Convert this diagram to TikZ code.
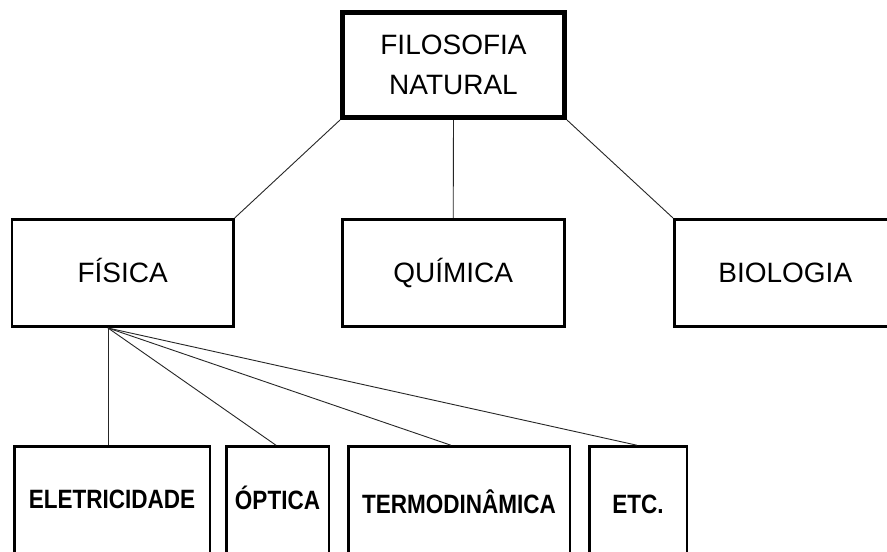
\documentclass[tikz,border=0pt]{standalone}
\usepackage{fontspec}
\setmainfont{Liberation Sans}
\newfontfamily\narrowbold[FakeStretch=0.85]{Liberation Sans Bold}
\begin{document}
\begin{tikzpicture}[x=1pt,y=-1pt,
  box/.style={draw=black, rectangle, inner sep=0pt, line width=2.5pt},
  link/.style={line width=0.9pt, draw=black!85},
  toptext/.style={font=\fontsize{28}{40}\selectfont, align=center},
  midtext/.style={font=\fontsize{28}{34}\selectfont, text height=20pt, text depth=0pt},
  bottext/.style={font=\narrowbold\fontsize{26.5}{30}\selectfont, anchor=north, text depth=70pt}]
\clip (0,0) rectangle (887,552);
\fill[white] (0,0) rectangle (887,552);

% top
\node[box, line width=5pt, minimum width=222pt, minimum height=105.5pt, toptext] (top) at (453.5,64.75) {FILOSOFIA\\NATURAL};

% middle row
\node[box, minimum width=221.4pt, minimum height=107pt, midtext] (fis) at (122.7,272.75) {FÍSICA};
\node[box, line width=3pt, minimum width=222.4pt, minimum height=107pt, midtext] (qui) at (453.2,272.75) {QUÍMICA};
\node[box, minimum width=222pt, minimum height=107pt, midtext] (bio) at (785.25,272.75) {BIOLOGIA};

% bottom row
\node[box, minimum width=195.5pt, text height=61.75pt, bottext] (ele) at (112,445.25) {ELETRICIDADE};
\node[box, minimum width=102.5pt, text height=62.75pt, bottext] (opt) at (277.5,445.25) {ÓPTICA};
\node[box, minimum width=221.5pt, text height=66.75pt, bottext] (ter) at (459,445.25) {TERMODINÂMICA};
\node[box, minimum width=97.5pt, text height=66.75pt, bottext] (etc) at (638,445.25) {ETC.};

% connectors
\draw[link] (top.south west) -- (fis.north east);
\draw[link] (top.south) -- (qui.north);
\draw[link] (top.south east) -- (bio.north west);

\coordinate (fan) at (108,328);
\draw[link] (fan) -- (fan |- ele.north);
\draw[link] (fan) -- ([xshift=-1.5pt]opt.north);
\draw[link] (fan) -- ([xshift=-8pt]ter.north);
\draw[link] (fan) -- ([xshift=-1pt]etc.north);
\end{tikzpicture}
\end{document}
